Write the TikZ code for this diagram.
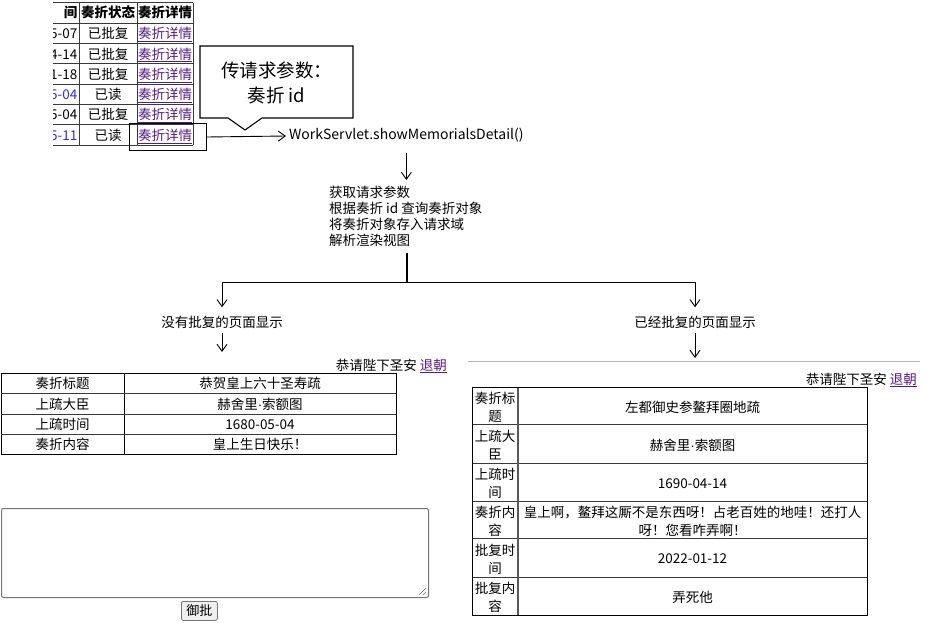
\documentclass[tikz,border=0pt]{standalone}
\usepackage{fontspec}
\setmainfont{Noto Sans CJK SC}
\newfontfamily\latf{Liberation Sans}
\usetikzlibrary{arrows.meta}
\definecolor{linkc}{HTML}{551A8B}
\definecolor{datec}{HTML}{2B2BFF}
\definecolor{gridc}{HTML}{3A3A3A}
\definecolor{tagray}{HTML}{767676}
\definecolor{btngray}{HTML}{EFEFEF}
\newcommand\lnk[1]{\textcolor{linkc}{\underline{#1}}}
\newcommand\mdot{{\latf\char"00B7}}
\tikzset{
  txt/.style={inner sep=0pt, text height=11.5pt, text depth=1.5pt, font=\fontsize{13.5}{16}\selectfont},
  two/.style={inner sep=0pt, align=center, font=\fontsize{13.5}{18}\selectfont},
  arr/.style={-{Straight Barb[length=7pt,width=10pt]}, line width=0.9pt},
  grid/.style={draw=gridc, line width=1pt},
}
\begin{document}
\begin{tikzpicture}[x=1pt,y=-1pt]
\useasboundingbox (0,0) rectangle (927,623);
\fill[white] (0,0) rectangle (927,623);

% ---------- top list table (cut at the left) ----------
\begin{scope}
\clip (53,0) rectangle (200,160);
\foreach \y in {3,23.3,43.6,63.9,84.2,104.5,124.8,145.1} \draw[grid] (40,\y) -- (193,\y);
\foreach \x in {79,137,193} \draw[grid] (\x,3) -- (\x,145.1);
\node[txt, anchor=east, font=\fontsize{13.5}{16}\selectfont\bfseries] (h1) at (77.5,13) {间};
\node[txt, font=\fontsize{13.5}{16}\selectfont\bfseries] (h2) at (108,13) {奏折状态};
\node[txt, font=\fontsize{13.5}{16}\selectfont\bfseries] (h3) at (165,13) {奏折详情};
\foreach \i/\d/\s/\c in {1/5-07/已批复/black, 2/4-14/已批复/black, 3/1-18/已批复/black, 4/5-04/已读/datec, 5/5-04/已批复/black, 6/5-11/已读/datec}{
  \pgfmathsetmacro\yy{13.5+20.3*\i}
  \node[txt, anchor=east, text=\c] (d\i) at (77.5,\yy) {\d};
  \node[txt] (s\i) at (108,\yy) {\s};
  \node[txt] (l\i) at (165,\yy) {\lnk{奏折详情}};
}
\end{scope}

% highlight of the clicked link
\node[draw, line width=1pt, minimum width=77pt, minimum height=27pt, inner sep=0pt, anchor=north west] (hl) at (129,123) {};

% callout
\draw[line width=1.1pt, fill=white] (200,46) -- (353,46) -- (353,118) -- (262,118) -- (245,130) -- (228,118) -- (200,118) -- cycle;
\node[align=center, inner sep=0pt, font=\fontsize{18.5}{25}\selectfont] (cb) at (276.5,82.5) {传请求参数：\\奏折 id};

% servlet
\node[anchor=west, inner sep=0pt, text height=11pt, text depth=3pt, font=\fontsize{14}{18}\selectfont] (ws) at (289,136) {WorkServlet.showMemorialsDetail()};
\draw[arr] (hl.east) -- ([xshift=-3pt]ws.west);

% steps
\node[anchor=north west, inner sep=0pt, align=left, font=\fontsize{13.5}{16}\selectfont] (st) at (329,186) {获取请求参数\\根据奏折 id 查询奏折对象\\将奏折对象存入请求域\\解析渲染视图};
\draw[arr, shorten <=10pt, shorten >=6pt] (ws.south) -- (ws.south |- st.north);

% branch
\coordinate (j) at (407,282);
\coordinate (jl) at (222,282);
\coordinate (jr) at (695,282);
\draw[line width=1.4pt, shorten <=6pt] (st.south -| j) -- (j);
\draw[line width=0.9pt] (jl) -- (jr);
\node[txt] (nl) at (222,322) {没有批复的页面显示};
\node[txt] (nr) at (695,322) {已经批复的页面显示};
\draw[arr, shorten >=8pt] (jl) -- (nl.north);
\draw[arr, shorten >=8pt] (jr) -- (nr.north);
\coordinate (tl) at (222,352);
\coordinate (tr) at (695,358);
\draw[arr, shorten <=4.5pt] (nl.south) -- (tl);
\draw[arr, shorten <=4.5pt] (nr.south) -- (tr);

% ---------- left page ----------
\node[txt, anchor=east] (gl) at (447,365) {恭请陛下圣安 \lnk{退朝}};
\draw[line width=1pt] (1,373) rectangle (396,454);
\draw[line width=1pt] (124,373) -- (124,454);
\foreach \y in {393.5,414,434} \draw[grid] (1,\y) -- (396,\y);
\foreach \i/\a/\b/\y in {1/奏折标题/恭贺皇上六十圣寿疏/383.5, 2/上疏大臣/赫舍里\mdot 索额图/404, 3/上疏时间/1680-05-04/424, 4/奏折内容/皇上生日快乐！/444}{
  \node[txt] (la\i) at (62.5,\y) {\a};
  \node[txt] (lb\i) at (260,\y) {\b};
}
\node[draw=tagray, line width=1pt, rounded corners=2pt, minimum width=427pt, minimum height=89pt, inner sep=0pt, anchor=north west] (ta) at (1,508) {};
\draw[tagray, line width=0.6pt] (419,595) -- (426,588) (423,595) -- (426,592);
\node[draw=tagray, fill=btngray, line width=0.8pt, rounded corners=2pt, minimum width=36pt, minimum height=19pt, inner sep=0pt, anchor=north west, font=\fontsize{13}{15}\selectfont] (btn) at (181,601) {御批};

% ---------- right page ----------
\draw[gray!55, line width=1pt] (468,361.5) -- (920,361.5);
\node[txt, anchor=east] (gr) at (917,379) {恭请陛下圣安 \lnk{退朝}};
\foreach \y in {424,463,501,538,577} \draw[grid] (472,\y) -- (867,\y);
\draw[gray!70!black, line width=2pt] (518,387) -- (518,615);
\draw[line width=1pt] (472,387) rectangle (867,615);
\foreach \i/\a/\b/\y in {1/奏折标\\题/左都御史参鳌拜圈地疏/405.5, 2/上疏大\\臣/赫舍里\mdot 索额图/443.5, 3/上疏时\\间/1690-04-14/482, 4/奏折内\\容/{皇上啊，鳌拜这厮不是东西呀！占老百姓的地哇！还打人\\呀！您看咋弄啊！}/519.5, 5/批复时\\间/2022-01-12/557.5, 6/批复内\\容/弄死他/596}{
  \node[two] (ra\i) at (495,\y+1.5) {\a};
  \node[two] (rb\i) at (692.5,\y+1.5) {\b};
}
\end{tikzpicture}
\end{document}
